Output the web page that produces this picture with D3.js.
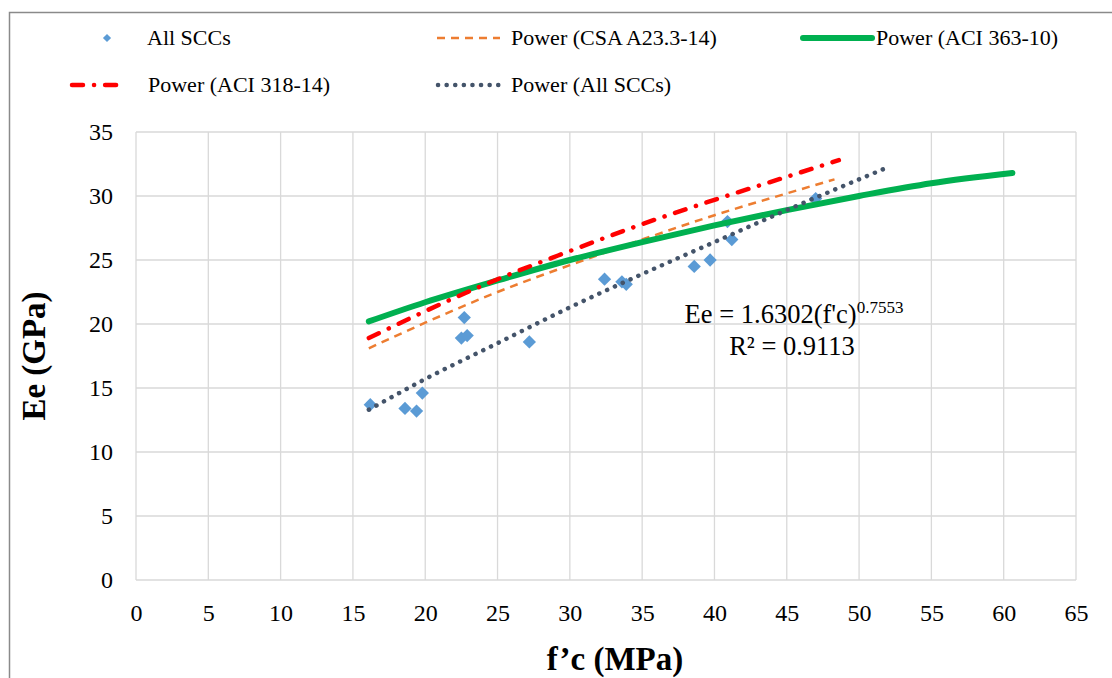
<!DOCTYPE html>
<html>
<head>
<meta charset="utf-8">
<script src="https://cdn.jsdelivr.net/npm/d3@7"></script>
<style>
  body { margin: 0; background: #fff; }
  text { font-family: "Liberation Serif", "Times New Roman", serif; fill: #000; }
</style>
</head>
<body>
<div id="chart"></div>
<script>
// measured points (f'c in MPa, Ee in GPa)
var fcData = [16.2, 18.6, 19.4, 19.8, 22.7, 22.5, 22.9, 27.2, 32.4, 33.6, 33.9, 38.6, 39.7, 40.9, 41.2, 47.0];
var eeData = [13.7, 13.4, 13.2, 14.6, 20.5, 18.9, 19.1, 18.6, 23.5, 23.3, 23.1, 24.5, 25.0, 28.0, 26.6, 29.8];

// trend curves
var csaFc = [16.1, 20, 25, 30, 35, 40, 45, 48.3];
var csaEe = [18.1, 20.1, 22.5, 24.6, 26.6, 28.5, 30.2, 31.3];
var aci363Fc = [16.1, 20, 25, 30, 35, 40, 45, 50, 55, 60.6];
var aci363Ee = [20.2, 21.7, 23.4, 25.0, 26.4, 27.7, 28.9, 30.0, 31.0, 31.8];
var aci318Fc = [16.1, 20, 25, 30, 35, 40, 45, 48.6];
var aci318Ee = [18.9, 21.0, 23.5, 25.7, 27.8, 29.7, 31.5, 32.8];
var trendFc = [16.1, 20, 25, 30, 35, 40, 45, 50, 51.9];
var trendEe = [13.3, 15.7, 18.5, 21.3, 23.9, 26.4, 28.9, 31.3, 32.2];

var xTicks = d3.range(0, 66, 5);
var yTicks = d3.range(0, 36, 5);

var W = 1112, H = 678;
var plot = { left: 136, right: 1076, top: 132, bottom: 580 };
var serif = '"Liberation Serif", "Times New Roman", serif';

var svg = d3.select("#chart").append("svg")
    .attr("width", W)
    .attr("height", H)
    .attr("font-family", serif);

// outer chart border (cut off at right/bottom like the source)
svg.append("rect")
    .attr("x", 9.5).attr("y", 12.5)
    .attr("width", W + 20).attr("height", H + 20)
    .style("fill", "none")
    .style("stroke", "#8a8a8a")
    .style("stroke-width", 1.5);

var x = d3.scaleLinear().domain([0, 65]).range([plot.left, plot.right]);
var y = d3.scaleLinear().domain([0, 35]).range([plot.bottom, plot.top]);

// gridlines
svg.append("g").selectAll("line").data(xTicks).enter().append("line")
    .attr("x1", function(d) { return x(d); }).attr("x2", function(d) { return x(d); })
    .attr("y1", plot.top).attr("y2", plot.bottom)
    .style("stroke", "#d9d9d9").style("stroke-width", 1.3);
svg.append("g").selectAll("line").data(yTicks).enter().append("line")
    .attr("x1", plot.left).attr("x2", plot.right)
    .attr("y1", function(d) { return y(d); }).attr("y2", function(d) { return y(d); })
    .style("stroke", "#d9d9d9").style("stroke-width", 1.3);

// axes (labels only)
var xAxis = svg.append("g")
    .attr("transform", "translate(0," + plot.bottom + ")")
    .call(d3.axisBottom(x).tickValues(xTicks).tickSize(0).tickPadding(24));
var yAxis = svg.append("g")
    .attr("transform", "translate(" + plot.left + ",0)")
    .call(d3.axisLeft(y).tickValues(yTicks).tickSize(0).tickPadding(23));
[xAxis, yAxis].forEach(function(a) {
    a.attr("font-family", serif).attr("font-size", 24);
    a.select(".domain").remove();
    a.selectAll("text")
        .style("font-family", serif)
        .style("font-size", "24px")
        .style("fill", "#000");
});

// scatter points
var points = fcData.map(function(d, i) { return { fc: d, ee: eeData[i] }; });
var diamond = d3.symbol().type(d3.symbolSquare).size(88);
svg.append("g").selectAll("path").data(points).enter().append("path")
    .attr("d", diamond)
    .attr("transform", function(d) { return "translate(" + x(d.fc) + "," + y(d.ee) + ") rotate(45)"; })
    .style("fill", "#5b9bd5");

function series(fc, ee) {
    return fc.map(function(d, i) { return { fc: d, ee: ee[i] }; });
}
var line = d3.line()
    .x(function(d) { return x(d.fc); })
    .y(function(d) { return y(d.ee); })
    .curve(d3.curveMonotoneX);

var styles = {
    csa:    { stroke: "#ed7d31", width: 2.5, dash: "8 6", cap: "butt" },
    aci363: { stroke: "#00b050", width: 6, dash: null, cap: "round" },
    aci318: { stroke: "#ff0000", width: 4.5, dash: "11 11 0.1 11", cap: "round" },
    trend:  { stroke: "#44546a", width: 4.5, dash: "0.1 8.5", cap: "round" }
};

function drawLine(data, st) {
    svg.append("path")
        .datum(data)
        .attr("d", line)
        .style("fill", "none")
        .style("stroke", st.stroke)
        .style("stroke-width", st.width)
        .style("stroke-linecap", st.cap)
        .style("stroke-dasharray", st.dash);
}
drawLine(series(csaFc, csaEe), styles.csa);
drawLine(series(aci363Fc, aci363Ee), styles.aci363);
drawLine(series(aci318Fc, aci318Ee), styles.aci318);
drawLine(series(trendFc, trendEe), styles.trend);

// equation
var eq = svg.append("text")
    .attr("x", 794).attr("y", 323)
    .attr("text-anchor", "middle")
    .style("font-size", "26.5px");
eq.append("tspan").text("Ee = 1.6302(f'c)");
eq.append("tspan").attr("dy", -10).style("font-size", "17px").text("0.7553");
svg.append("text")
    .attr("x", 792).attr("y", 355)
    .attr("text-anchor", "middle")
    .style("font-size", "26.5px")
    .text("R² = 0.9113");

// legend
var legend = svg.append("g").style("font-size", "22px");
var legendItems = [
    { label: "All SCCs", x0: 107, tx: 147, y: 38, type: "marker" },
    { label: "Power (CSA A23.3-14)", x0: 437, x1: 500, tx: 511, y: 38, st: styles.csa },
    { label: "Power (ACI 363-10)", x0: 803, x1: 872, tx: 876, y: 38, st: styles.aci363 },
    { label: "Power (ACI 318-14)", x0: 72, x1: 127, tx: 148, y: 85, st: styles.aci318 },
    { label: "Power (All SCCs)", x0: 438, x1: 500, tx: 511, y: 85, st: styles.trend }
];
legendItems.forEach(function(it) {
    if (it.type === "marker") {
        legend.append("path")
            .attr("d", d3.symbol().type(d3.symbolSquare).size(34))
            .attr("transform", "translate(" + it.x0 + "," + it.y + ") rotate(45)")
            .style("fill", "#5b9bd5");
    } else {
        legend.append("line")
            .attr("x1", it.x0).attr("x2", it.x1)
            .attr("y1", it.y).attr("y2", it.y)
            .style("stroke", it.st.stroke)
            .style("stroke-width", it.st.width)
            .style("stroke-linecap", it.st.cap)
            .style("stroke-dasharray", it.st.dash);
    }
    legend.append("text")
        .attr("x", it.tx).attr("y", it.y + 7)
        .text(it.label);
});

// axis titles
svg.append("text")
    .attr("x", 615).attr("y", 670)
    .attr("text-anchor", "middle")
    .style("font-size", "33px")
    .style("font-weight", "bold")
    .text("f’c (MPa)");
svg.append("text")
    .attr("transform", "translate(45,356) rotate(-90)")
    .attr("text-anchor", "middle")
    .style("font-size", "33px")
    .style("font-weight", "bold")
    .text("Ee (GPa)");
</script>
</body>
</html>
